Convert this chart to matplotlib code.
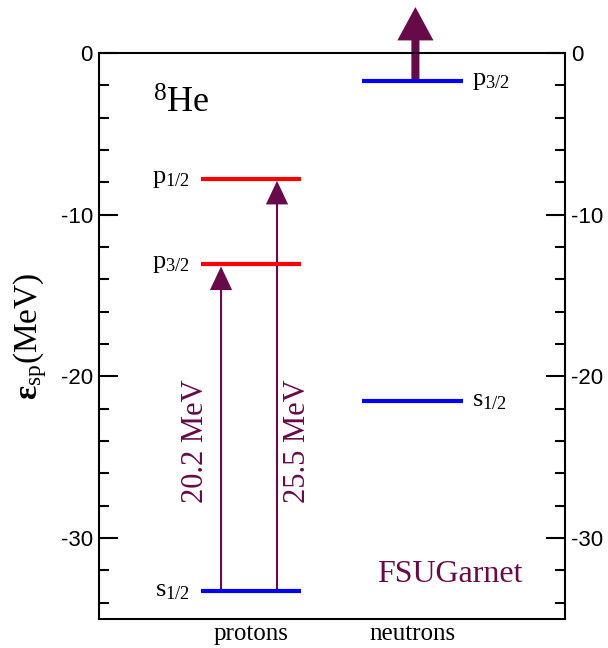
import numpy as np
import matplotlib
matplotlib.use('Agg')
import matplotlib.pyplot as plt

# single-particle levels of 8He (FSUGarnet), MeV
proton_levels = [-33.27, -13.07, -7.77]
proton_labels = ['s', 'p', 'p']
proton_j = ['1/2', '3/2', '1/2']
proton_colors = ['blue', 'red', 'red']

neutron_levels = [-21.5, -1.73]
neutron_labels = ['s', 'p']
neutron_j = ['1/2', '3/2']
neutron_colors = ['blue', 'blue']

# excitations (from, to, text)
transitions = [(-33.27, -13.07, '20.2 MeV'), (-33.27, -7.77, '25.5 MeV')]
continuum_top = 2.85

groups = ['protons', 'neutrons']
yticks_major = [0, -10, -20, -30]

purple = '#670a4a'

plt.rcParams['mathtext.fontset'] = 'custom'
plt.rcParams['mathtext.rm'] = 'Liberation Serif'
plt.rcParams['mathtext.it'] = 'Liberation Serif:italic'
plt.rcParams['mathtext.bf'] = 'Liberation Serif:bold'
plt.rcParams['axes.unicode_minus'] = False

fig = plt.figure(figsize=(6.08, 6.48), dpi=100)
ax = fig.add_axes([0.163, 0.045, 0.766, 0.873])

p_span = (1.02, 2.02)
n_span = (2.63, 3.64)

serif = 'Liberation Serif'

for y, lab, j, c in zip(proton_levels, proton_labels, proton_j, proton_colors):
    ax.hlines(y, p_span[0], p_span[1], colors=c, lw=3, zorder=3)
    ax.text(p_span[0] - 0.11, y, lab + '$_{' + j + '}$', ha='right', va='center',
            fontsize=19, family=serif)

for y, lab, j, c in zip(neutron_levels, neutron_labels, neutron_j, neutron_colors):
    ax.hlines(y, n_span[0], n_span[1], colors=c, lw=3, zorder=3)
    ax.text(n_span[1] + 0.09, y, lab + '$_{' + j + '}$', ha='left', va='center',
            fontsize=19, family=serif)

# transition arrows
arrow_x = [p_span[0] + 0.2, p_span[0] + 0.76]
text_dx = [-0.26, 0.21]
for (y0, y1, txt), xa, dx in zip(transitions, arrow_x, text_dx):
    ax.annotate('', xy=(xa, y1), xytext=(xa, y0),
                arrowprops=dict(arrowstyle='simple,tail_width=1.5,head_width=16,head_length=17',
                                mutation_scale=1, color=purple, lw=0,
                                shrinkA=0, shrinkB=1.5), zorder=2)
    ax.text(xa + dx, -24.0, txt, rotation=90, ha='center', va='center',
            fontsize=22, family=serif, color=purple)

# neutron p3/2 unbound -> continuum arrow
xc = (n_span[0] + n_span[1]) / 2 + 0.03
ax.annotate('', xy=(xc, continuum_top), xytext=(xc, neutron_levels[1]),
            arrowprops=dict(arrowstyle='simple,tail_width=5.8,head_width=26,head_length=24',
                            mutation_scale=1, color=purple, lw=0,
                            shrinkA=0, shrinkB=0),
            annotation_clip=False, zorder=2)

ax.text(0.116, 0.894, r'$^{8}$He', transform=ax.transAxes, fontsize=26,
        family=serif, va='baseline', ha='left')
ax.text(0.597, 0.065, 'FSUGarnet', transform=ax.transAxes, fontsize=23,
        family=serif, color=purple, va='baseline', ha='left')

ax.set_xlim(0, 4.66)
ax.set_ylim(-35, 0)
ax.set_xticks([(p_span[0] + p_span[1]) / 2, (n_span[0] + n_span[1]) / 2])
ax.set_xticklabels(groups, fontsize=18, family=serif)
ax.tick_params(axis='x', length=0, pad=3)

ax.set_yticks(yticks_major)
ax.set_yticks(np.arange(-34, 0, 2), minor=True)
ax.tick_params(axis='y', which='both', direction='in', left=True, right=True,
               labelleft=True, labelright=True, width=1.5, pad=4.5, labelsize=16)
ax.tick_params(axis='y', which='major', length=13.7)
ax.tick_params(axis='y', which='minor', length=7)
for lab in ax.get_yticklabels():
    lab.set_family('Liberation Sans')

for s in ax.spines.values():
    s.set_linewidth(1.5)

ax.set_ylabel(r'$\mathbf{\varepsilon}_{\mathrm{sp}}$(MeV)', fontsize=24,
              family=serif, labelpad=8)

fig.savefig('out.png', dpi=100)
